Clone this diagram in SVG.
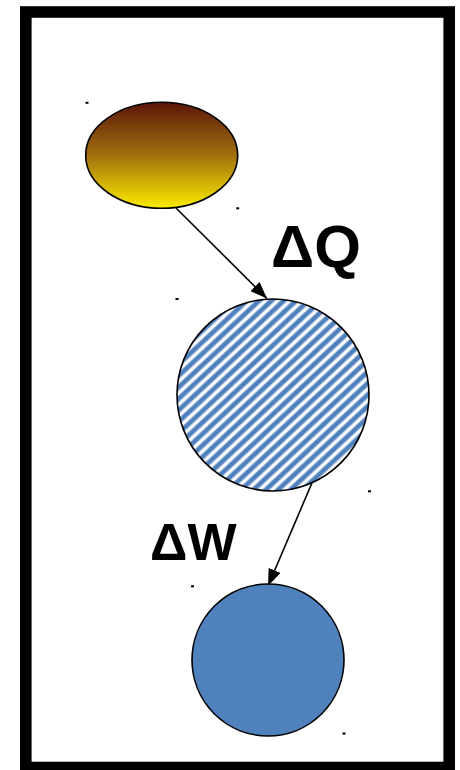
<svg xmlns="http://www.w3.org/2000/svg" width="460" height="770" viewBox="0 0 460 770">
  <defs>
    <linearGradient id="heat" x1="0" y1="0" x2="0" y2="1">
      <stop offset="0" stop-color="#5a1608"/>
      <stop offset="0.5" stop-color="#a2700e"/>
      <stop offset="1" stop-color="#fbec00"/>
    </linearGradient>
    <pattern id="stripes" width="8.4" height="8" patternUnits="userSpaceOnUse" patternTransform="rotate(47)">
      <rect width="8.4" height="8" fill="#ffffff"/>
      <rect x="0" y="0" width="3.8" height="8" fill="#4f81bd"/>
      <rect x="3.8" y="0" width="1" height="8" fill="#9fb9dc"/>
      <rect x="7.4" y="0" width="1" height="8" fill="#9fb9dc"/>
    </pattern>
    <marker id="arrow" viewBox="0 0 17 13" refX="17" refY="6.5" markerWidth="17" markerHeight="13" markerUnits="userSpaceOnUse" orient="auto">
      <path d="M0,0 L17,6.5 L0,13 Z" fill="#000"/>
    </marker>
  </defs>
  <style>
    .shape { stroke: #000; stroke-width: 1.6; }
    .edge { stroke: #000; stroke-width: 1.6; fill: none; marker-end: url(#arrow); }
    .label { font-family: "Liberation Sans", Arial, sans-serif; font-weight: bold; fill: #000; }
    .tick { fill: #000; }
  </style>

  <rect x="0" y="0" width="460" height="770" fill="#ffffff"/>
  <rect x="25.8" y="12" width="423.4" height="755.5" fill="none" stroke="#000" stroke-width="11.6"/>

  <g id="connectors">
    <line class="edge" x1="176" y1="208" x2="267" y2="298.5"/>
    <line class="edge" x1="313" y1="480.5" x2="268" y2="586"/>
  </g>

  <g id="heat-source">
    <ellipse class="shape" cx="161.7" cy="155.3" rx="76" ry="53" fill="url(#heat)"/>
    <rect class="tick" x="85.5" y="101.8" width="3" height="2"/>
    <rect class="tick" x="236.2" y="207.3" width="3" height="2"/>
  </g>

  <g id="system">
    <circle class="shape" cx="273" cy="395" r="96" fill="url(#stripes)"/>
    <rect class="tick" x="175.5" y="298" width="3" height="2"/>
    <rect class="tick" x="368" y="490.3" width="3" height="2"/>
  </g>

  <g id="work-sink">
    <circle class="shape" cx="268" cy="660" r="76" fill="#4f81bd"/>
    <rect class="tick" x="191" y="585.3" width="3" height="2"/>
    <rect class="tick" x="342.5" y="732.5" width="3" height="2"/>
  </g>

  <g id="labels">
    <text class="label" x="271" y="267" font-size="60">ΔQ</text>
    <text class="label" x="150" y="560" font-size="52">ΔW</text>
  </g>
</svg>
